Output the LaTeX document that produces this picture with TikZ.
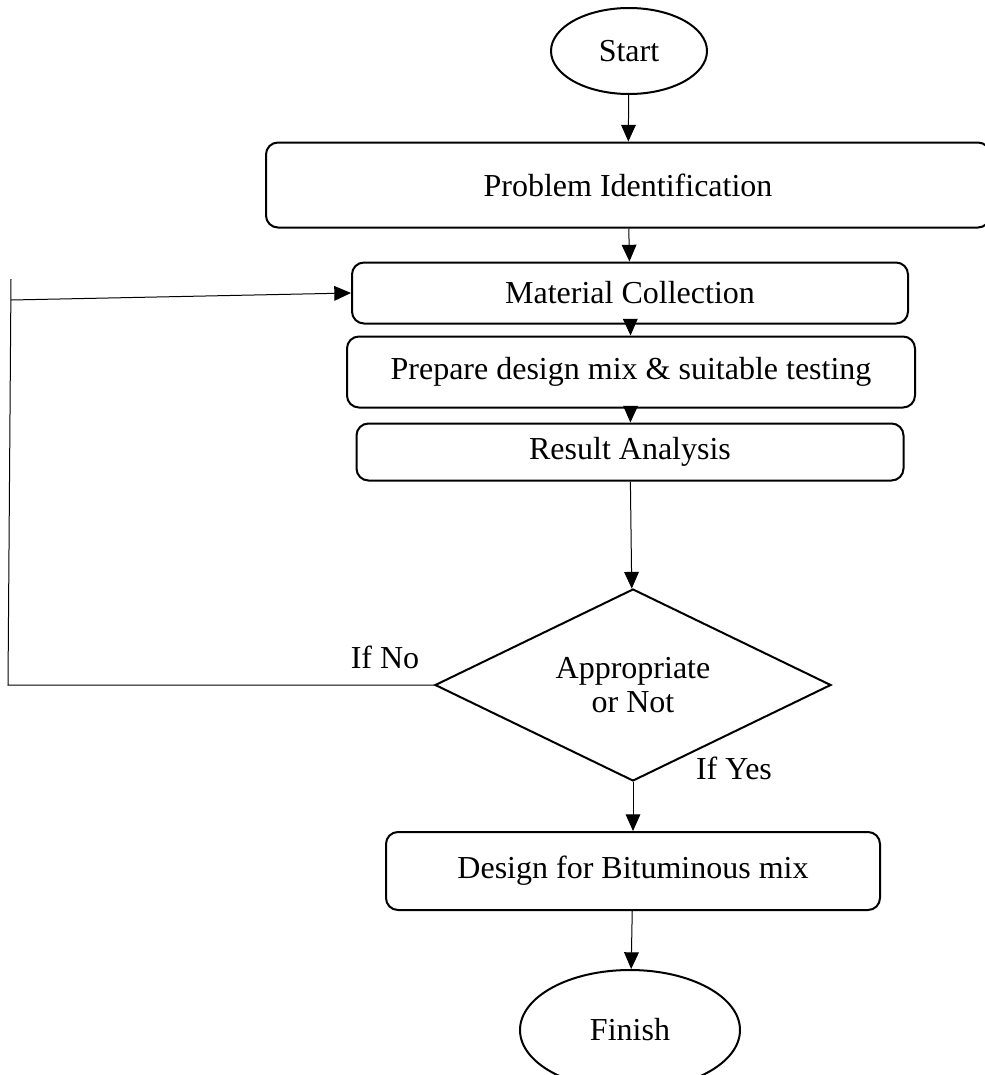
\documentclass[tikz,border=0pt]{standalone}
\usepackage{fontspec}
\setmainfont{Liberation Serif}
\usetikzlibrary{arrows.meta,shapes.geometric}

\begin{document}
\begin{tikzpicture}[
  x=0.75pt,y=-0.75pt,
  term/.style={ellipse,draw,line width=1.5pt,inner sep=0pt,font=\fontsize{24}{28}\selectfont},
  proc/.style={rectangle,rounded corners=9pt,draw,line width=1.5pt,inner sep=0pt,font=\fontsize{24}{28}\selectfont},
  decide/.style={diamond,aspect=2,draw,line width=1.5pt,inner sep=0pt,align=center,font=\fontsize{24}{28}\selectfont},
  flow/.style={draw,line width=0.75pt,-{Triangle[length=12.5pt,width=11pt]}},
  loopline/.style={draw,line width=0.75pt},
  lbl/.style={font=\fontsize{24}{28}\selectfont}
]
\clip (0,0) rectangle (985,1075);
\useasboundingbox (0,0) rectangle (985,1075);
\node[term,minimum width=117pt,minimum height=64.5pt] (start) at (629,51) {Start};
\node[proc,minimum width=543pt,minimum height=63.75pt] (ident) at (628,185) {Problem Identification};
\node[proc,minimum width=417pt,minimum height=45.75pt] (collect) at (630,293) {Material Collection};
\node[proc,minimum width=426pt,minimum height=53.25pt] (prep) at (631,372) {Prepare design mix \& suitable testing};
\node[proc,minimum width=410.25pt,minimum height=42.75pt] (result) at (630,452) {Result Analysis};
\node[decide,minimum width=297pt,minimum height=144pt] (check) at (633,685) {Appropriate\\[-2pt]or Not};
\node[proc,minimum width=370.5pt,minimum height=58.5pt] (design) at (633,871) {Design for Bituminous mix};
\node[term,minimum width=165pt,minimum height=90pt] (finish) at (630,1030) {Finish};
\coordinate (backlow) at (8,685);
\coordinate (backtop) at (11,279);
\coordinate (backin) at (11,300);
\node[lbl] (no) at (385,657) {If No};
\node[lbl] (yes) at (734,768) {If Yes};
\foreach \a/\b in {start/ident,ident/collect,collect/prep,prep/result,result/check,check/design,design/finish} {
  \draw[flow] (\a) -- (\b);
}
\draw[loopline] (check.west) -- (backlow) -- (backtop);
\draw[flow] (backin) -- (collect.west);
\end{tikzpicture}
\end{document}
